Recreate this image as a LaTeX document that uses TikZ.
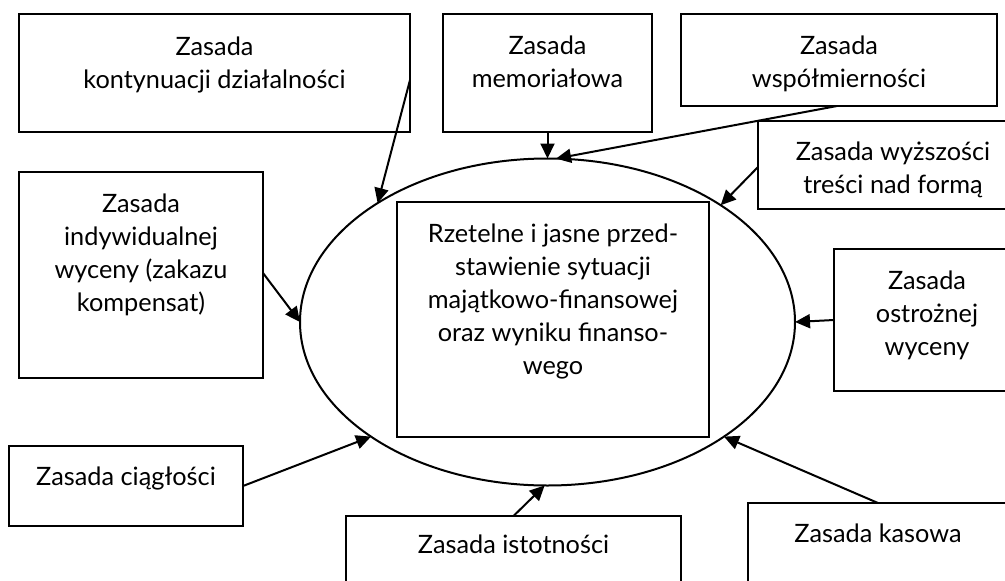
\documentclass[tikz,border=0pt]{standalone}
\usepackage{fontspec}
\setmainfont{Lato}
\usetikzlibrary{arrows.meta,shapes.geometric}
\begin{document}
\begin{tikzpicture}[x=1pt,y=-1pt,
  box/.style={draw,line width=2pt,rectangle,inner sep=0pt,outer sep=0pt},
  txt/.style={anchor=base,align=flush center,inner sep=0pt,text width=#1,
    font=\fontsize{25.3}{33}\selectfont},
  txt/.default=320pt,
  arr/.style={line width=2pt,-{Triangle[length=15pt,width=14pt]}}]
\useasboundingbox (0,0) rectangle (1005,581);
\clip (0,0) rectangle (1005,581);
% ellipse and central box
\node[draw,line width=2pt,ellipse,inner sep=0pt,outer sep=0pt,
  minimum width=495pt,minimum height=327pt] (ell) at (547.5,322) {};
\node[box,minimum width=312pt,minimum height=235pt] (c) at (553,319.5) {};
\node[txt=312pt] (ct) at (553,242) {Rzetelne i jasne przed-\\stawienie sytuacji\\majątkowo-finansowej\\oraz wyniku finanso-\\wego};
% surrounding boxes
\node[box,minimum width=391pt,minimum height=118pt] (b1) at (214.5,73) {};
\node[txt] (t1) at (214.5,55) {Zasada\\kontynuacji działalności};
\node[box,minimum width=209pt,minimum height=118pt] (b2) at (547.5,73) {};
\node[txt] (t2) at (547.5,54) {Zasada\\memoriałowa};
\node[box,minimum width=316pt,minimum height=92pt] (b3) at (839,60) {};
\node[txt] (t3) at (839,54) {Zasada\\współmierności};
\node[box,minimum width=270pt,minimum height=88pt] (b4) at (893,165) {};
\node[txt] (t4) at (893,160) {Zasada wyższości\\treści nad formą};
\node[box,minimum width=244pt,minimum height=206pt] (b5) at (141,275) {};
\node[txt] (t5) at (141,212) {Zasada\\indywidualnej\\wyceny (zakazu\\kompensat)};
\node[box,minimum width=186pt,minimum height=142pt] (b6) at (927,320) {};
\node[txt] (t6) at (927,289) {Zasada\\ostrożnej\\wyceny};
\node[box,minimum width=260pt,minimum height=97pt] (b7) at (878,551.5) {};
\node[txt] (t7) at (878,542) {Zasada kasowa};
\node[box,minimum width=234pt,minimum height=80pt] (b8) at (126,486) {};
\node[txt] (t8) at (126,485) {Zasada ciągłości};
\node[box,minimum width=335pt,minimum height=84pt] (b9) at (513.5,558) {};
\node[txt] (t9) at (513.5,553) {Zasada istotności};
% connectors
\draw[arr] ([yshift=-7pt]b1.east) -- (ell.145);
\draw[arr] (b2.south) -- (ell.90);
\draw[arr] ([xshift=-2pt]b3.south) -- (ell.87);
\draw[arr] ([yshift=-2pt]b4.west) -- (ell.34);
\draw[arr] ([yshift=2pt]b5.east) -- (ell.180);
\draw[arr] (b6.west) -- (ell.0);
\draw[arr] (b7.north) -- (ell.327);
\draw[arr] (b8.east) -- (ell.213);
\draw[arr] (b9.north) -- (ell.269);
\end{tikzpicture}
\end{document}
